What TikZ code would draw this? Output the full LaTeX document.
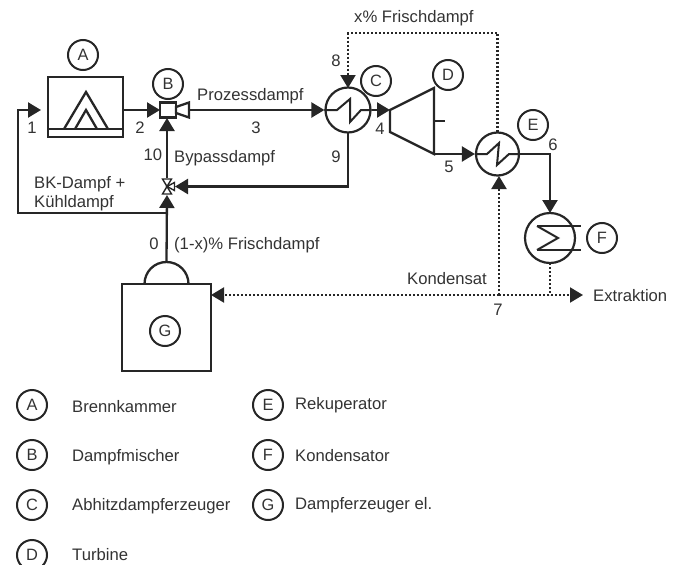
\documentclass[tikz,border=0pt]{standalone}
\usepackage{fontspec}
\setmainfont{Liberation Sans}
\usetikzlibrary{arrows.meta}
\definecolor{ink}{HTML}{262626}
\definecolor{txt}{HTML}{333333}
\tikzset{
  pipe/.style={draw=ink,line width=2.3pt,line join=miter},
  flow/.style={pipe,-{Triangle[length=13pt,width=15pt]}},
  dotline/.style={draw=ink,line width=2.1pt,dash pattern=on 2pt off 2pt},
  dotflow/.style={dotline,-{Triangle[length=13pt,width=15pt]}},
  tag/.style={circle,draw=ink,line width=2pt,minimum size=30pt,inner sep=0pt,text=txt,font=\fontsize{16.4}{18}\selectfont},
  lbl/.style={anchor=base west,inner sep=0pt,text=txt,font=\fontsize{16.65}{20}\selectfont},
  num/.style={anchor=center,inner sep=0pt,text=txt,font=\fontsize{16.65}{20}\selectfont},
  hx/.style={circle,draw=ink,line width=2.2pt,inner sep=0pt,fill=white},
  unit/.style={draw=ink,line width=2.3pt,inner sep=0pt,fill=white},
  thinl/.style={draw=ink,line width=2pt,line join=miter}
}
\begin{document}
\begin{tikzpicture}[x=1pt,y=-1pt]
\path[use as bounding box] (0,0) rectangle (681,565);

% units
\node[unit,minimum width=75pt,minimum height=60pt] (A) at (85.5,107) {};
\node[unit,minimum width=16pt,minimum height=15pt] (Bm) at (168,110) {};
\node[hx,minimum size=45pt] (C) at (348,110) {};
\node[hx,minimum size=43pt] (E) at (497.5,154) {};
\node[hx,minimum size=50pt] (F) at (550,238) {};
\node[unit,minimum width=89pt,minimum height=87pt] (G) at (166.5,327.5) {};

% ports
\coordinate (A1) at (41,110);
\coordinate (A2) at (123,110);
\coordinate (Bin) at (160,110);
\coordinate (Bout) at (189,110);
\coordinate (Bbot) at (167,118);
\coordinate (Vc) at (167,186.5);
\coordinate (Vr) at (175,186.5);
\coordinate (Vt) at (167,178);
\coordinate (Vb) at (167,195);
\coordinate (Tin) at (390,110);
\coordinate (Tout) at (434,154);
\coordinate (Cbot) at (348,133);
\coordinate (Jb) at (167,213);
\coordinate (Dome) at (166.5,262);
\coordinate (Ctop) at (348,88);
\coordinate (Etop) at (497.5,132);
\coordinate (Ebot) at (499,176);
\coordinate (Ftop) at (550,213);
\coordinate (Fbot) at (550,263);
\coordinate (K) at (499,295);
\coordinate (L) at (550,295);
\coordinate (Gr) at (211,295);
\coordinate (X) at (583,295);

% burner details
\draw[pipe] (48,129) -- (123,129);
\draw[pipe] (64,129) -- (86,92) -- (108,129);
\draw[pipe] (75,129) -- (86,110) -- (97,129);

% mixer nozzle
\draw[pipe] (176,107) -- (189,102.5) -- (189,117.5) -- (176,113) -- cycle;

% heat exchanger symbols
\draw[thinl] (C.west) -- (337,110) -- (350,99) -- (350,122) -- (361,110) -- (C.east);
\draw[thinl] (E.west) -- (487,154) -- (499,143) -- (497,165) -- (509,154) -- (E.east);
\draw[thinl] (537,226) -- (581,226);
\draw[thinl] (537,250) -- (581,250);
\draw[thinl] (537,226) -- (558,238) -- (537,250);

% turbine
\draw[pipe] (Tin) -- (434,88) -- (Tout) -- (390,132) -- cycle;
\draw[thinl] (434,121) -- (445,121);

% steam generator dome
\draw[pipe] (144.5,284) .. controls (144.5,272) and (154,262) .. (Dome) .. controls (179,262) and (188.5,272) .. (188.5,284);

% valve
\draw[thinl,line width=1.4pt,fill=white] (162.5,179) -- (171.5,179) -- (Vc) -- cycle;
\draw[thinl,line width=1.4pt,fill=white] (162.5,194) -- (171.5,194) -- (Vc) -- cycle;
\draw[thinl,line width=1.4pt,fill=white] (Vc) -- (174.5,182.5) -- (174.5,190.5) -- cycle;

% solid connectors
\draw[flow] (Jb) -- (18,213) -- (18,110) -- (A1);
\draw[flow] (A2) -- (Bin);
\draw[flow] (Bout) -- (C.west);
\draw[flow] (C.east) -- (Tin);
\draw[flow] (Tout) -- (E.west);
\draw[flow] (E.east) -- (550,154) -- (Ftop);
\draw[flow] (Cbot) -- (348,186.5) -- (Vr);
\draw[flow] (Vt) -- (Bbot);
\draw[flow] (Dome) -- (Vb);

% dotted connectors
\draw[dotflow] (Etop) -- (497.5,33) -- (348,33) -- (Ctop);
\draw[dotflow] (K) -- (Ebot);
\draw[dotline] (Fbot) -- (L);
\draw[dotflow] (K) -- (Gr);
\draw[dotflow] (K) -- (X);

% tags
\node[tag] (tA) at (83,55) {A};
\node[tag] (tB) at (168,84) {B};
\node[tag] (tC) at (376,81) {C};
\node[tag] (tD) at (448,75) {D};
\node[tag] (tE) at (533,125) {E};
\node[tag] (tF) at (602,238) {F};
\node[tag] (tG) at (165,331) {G};

% numbers
\node[num] (n1) at (32,128) {1};
\node[num] (n2) at (140,128) {2};
\node[num] (n3) at (256,128) {3};
\node[num] (n4) at (380,129) {4};
\node[num] (n5) at (449,167) {5};
\node[num] (n6) at (553,145) {6};
\node[num] (n7) at (498,310) {7};
\node[num] (n8) at (336,61) {8};
\node[num] (n9) at (336,157) {9};
\node[num] (n10) at (153,155) {10};
\node[num] (n0) at (154,244) {0};

% labels
\node[lbl] (l1) at (197,100) {Prozessdampf};
\node[lbl] (l2) at (174,162) {Bypassdampf};
\node[lbl] (l3) at (34,188) {BK-Dampf +};
\node[lbl] (l4) at (34,207) {Kühldampf};
\node[lbl] (l5) at (174,249) {(1-x)\% Frischdampf};
\node[lbl] (l6) at (354,22) {x\% Frischdampf};
\node[lbl] (l7) at (407,284) {Kondensat};
\node[lbl] (l8) at (593,301) {Extraktion};

% legend
\node[tag] (kA) at (32,405) {A};
\node[tag] (kB) at (32,455) {B};
\node[tag] (kC) at (32,505) {C};
\node[tag] (kD) at (32,555) {D};
\node[tag] (kE) at (268,405) {E};
\node[tag] (kF) at (268,455) {F};
\node[tag] (kG) at (268,505) {G};
\node[lbl] (kt1) at (72,412) {Brennkammer};
\node[lbl] (kt2) at (72,461) {Dampfmischer};
\node[lbl] (kt3) at (72,510) {Abhitzdampferzeuger};
\node[lbl] (kt4) at (72,560) {Turbine};
\node[lbl] (kt5) at (295,409) {Rekuperator};
\node[lbl] (kt6) at (295,461) {Kondensator};
\node[lbl] (kt7) at (295,509) {Dampferzeuger el.};
\end{tikzpicture}
\end{document}
